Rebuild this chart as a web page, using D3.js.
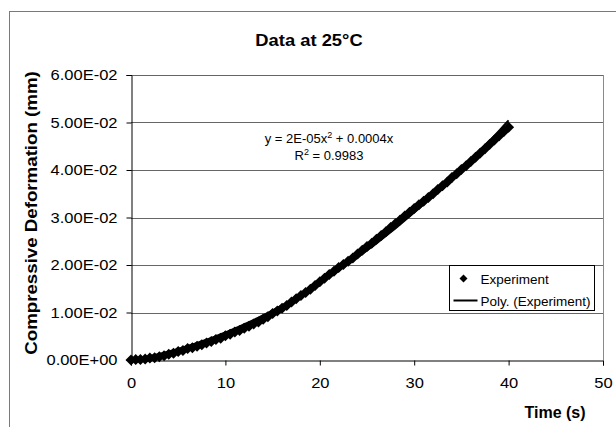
<!DOCTYPE html>
<html lang="en">
<head>
    <meta charset="UTF-8">
    <title>Data at 25°C</title>
    <style>
        body{ margin:0; background:#fff; }
        svg text{ font-family:"Liberation Sans", Arial, sans-serif; fill:#000; }
    </style>
</head>
<body>
    <div id="chart"></div>
    <script src="https://cdn.jsdelivr.net/npm/d3@7"></script>
    <script>
        // time (s), read every 0.5 s off the picture
        var timeValues = [0,0.5,1,1.5,2,2.5,3,3.5,4,4.5,5,5.5,6,6.5,7,7.5,8,8.5,9,9.5,
            10,10.5,11,11.5,12,12.5,13,13.5,14,14.5,15,15.5,16,16.5,17,17.5,18,18.5,19,19.5,
            20,20.5,21,21.5,22,22.5,23,23.5,24,24.5,25,25.5,26,26.5,27,27.5,28,28.5,29,29.5,
            30,30.5,31,31.5,32,32.5,33,33.5,34,34.5,35,35.5,36,36.5,37,37.5,38,38.5,39,39.5,40];
        // compressive deformation (mm)
        var deformation = [0.0000,0.0001,0.0001,0.0002,0.0004,0.0005,0.0007,0.0009,0.0012,0.0014,
            0.0018,0.0020,0.0024,0.0026,0.0029,0.0032,0.0036,0.0039,0.0043,0.0046,
            0.0051,0.0054,0.0059,0.0062,0.0067,0.0071,0.0076,0.0080,0.0086,0.0091,
            0.0098,0.0103,0.0109,0.0115,0.0122,0.0129,0.0136,0.0142,0.0149,0.0157,
            0.0165,0.0172,0.0180,0.0187,0.0195,0.0201,0.0208,0.0215,0.0223,0.0231,
            0.0239,0.0246,0.0254,0.0262,0.0270,0.0279,0.0287,0.0295,0.0303,0.0311,
            0.0319,0.0327,0.0334,0.0342,0.0350,0.0359,0.0367,0.0375,0.0384,0.0392,
            0.0401,0.0409,0.0418,0.0427,0.0436,0.0445,0.0454,0.0463,0.0472,0.0481,0.0490];
        var xTicks = [0,10,20,30,40,50];
        var yTicks = [0,0.01,0.02,0.03,0.04,0.05,0.06];
        var legendNames = ["Experiment","Poly. (Experiment)"];
        var equationText = ["y = 2E-05x", "R", " = 0.9983"];

        var W = 616, H = 427;
        var plot = {left:131, right:603, top:75, bottom:360};

        var svg = d3.select("#chart").append("svg")
            .attr("width", W)
            .attr("height", H);

        // outer chart frame (runs off the right and bottom of the picture)
        svg.append("rect")
            .attr("x", 9.5).attr("y", 11.5)
            .attr("width", 700).attr("height", 500)
            .attr("fill", "none")
            .attr("stroke", "#7a7a7a");

        var x = d3.scaleLinear().domain([0,50]).range([plot.left, plot.right]);
        var y = d3.scaleLinear().domain([0,0.06]).range([plot.bottom, plot.top]);

        // gridlines
        svg.append("g").selectAll("line")
            .data(yTicks.slice(1))
            .enter().append("line")
            .attr("x1", plot.left).attr("x2", plot.right)
            .attr("y1", function(d){ return Math.round(y(d)) + 0.5; })
            .attr("y2", function(d){ return Math.round(y(d)) + 0.5; })
            .attr("stroke", "#666")
            .attr("stroke-width", 1);

        // right border of plot area
        svg.append("line")
            .attr("x1", plot.right + 0.5).attr("x2", plot.right + 0.5)
            .attr("y1", plot.top).attr("y2", plot.bottom)
            .attr("stroke", "#8a8a8a");

        var fmt = function(d){
            var s = d.toExponential(2).toUpperCase();
            return s.replace(/E([+-])(\d)$/, "E$10$2");
        };

        var sx = 1.1; // labels in the picture are a little wide
        var yAxis = svg.append("g")
            .attr("transform", "translate(" + (plot.left + 0.5) + ",0)")
            .call(d3.axisLeft(y).tickValues(yTicks).tickSize(5).tickPadding(9).tickFormat(fmt));
        var xAxis = svg.append("g")
            .attr("transform", "translate(0," + (plot.bottom + 0.5) + ")")
            .call(d3.axisBottom(x).tickValues(xTicks).tickSize(5).tickPadding(12));

        [yAxis, xAxis].forEach(function(a){
            a.select(".domain").attr("stroke", "#000");
            a.selectAll(".tick line").attr("stroke", "#000");
            a.selectAll(".tick text")
                .style("font-family", '"Liberation Sans", Arial, sans-serif')
                .style("font-size", "15px");
        });
        yAxis.selectAll(".tick text")
            .attr("x", -14 / sx)
            .attr("transform", "scale(" + sx + ",1)");
        xAxis.selectAll(".tick text")
            .attr("transform", "scale(" + sx + ",1)");

        // experiment points (diamonds)
        var pts = timeValues.map(function(t, i){ return {t:t, v:deformation[i]}; });
        var dm = 5.5;
        var diamond = "M0," + (-dm) + "L" + dm + ",0L0," + dm + "L" + (-dm) + ",0Z";
        svg.append("g").selectAll("path")
            .data(pts)
            .enter().append("path")
            .attr("d", diamond)
            .attr("transform", function(d){ return "translate(" + x(d.t) + "," + y(d.v) + ")"; })
            .attr("fill", "#000");

        // 2nd order polynomial trendline (least squares, through origin)
        var s4=0, s3=0, s2=0, sxy=0, sx2y=0;
        pts.forEach(function(p){
            var t = p.t;
            s4 += t*t*t*t; s3 += t*t*t; s2 += t*t;
            sx2y += t*t*p.v; sxy += t*p.v;
        });
        var det = s4*s2 - s3*s3;
        var a = (sx2y*s2 - s3*sxy) / det;
        var b = (s4*sxy - s3*sx2y) / det;
        svg.append("path")
            .datum(timeValues)
            .attr("d", d3.line()
                .x(function(t){ return x(t); })
                .y(function(t){ return y(a*t*t + b*t); }))
            .attr("fill", "none")
            .attr("stroke", "#000")
            .attr("stroke-width", 2);

        // title and axis titles
        svg.append("text")
            .attr("transform", "translate(309,46) scale(1.08,1)")
            .attr("text-anchor", "middle")
            .style("font-size", "17px").style("font-weight", "bold")
            .text("Data at 25°C");
        svg.append("text")
            .attr("transform", "translate(37,213) rotate(-90) scale(1.1,1)")
            .attr("text-anchor", "middle")
            .style("font-size", "17px").style("font-weight", "bold")
            .text("Compressive Deformation (mm)");
        svg.append("text")
            .attr("x", 555).attr("y", 418)
            .attr("text-anchor", "middle")
            .style("font-size", "16px").style("font-weight", "bold")
            .text("Time (s)");

        // trendline equation
        var eq1 = svg.append("text")
            .attr("x", 329).attr("y", 143)
            .attr("text-anchor", "middle")
            .style("font-size", "13px");
        eq1.append("tspan").text(equationText[0]);
        eq1.append("tspan").attr("dy", -5).style("font-size", "9px").text("2");
        eq1.append("tspan").attr("dy", 5).text(" + 0.0004x");
        var eq2 = svg.append("text")
            .attr("x", 329).attr("y", 160)
            .attr("text-anchor", "middle")
            .style("font-size", "13px");
        eq2.append("tspan").text(equationText[1]);
        eq2.append("tspan").attr("dy", -5).style("font-size", "9px").text("2");
        eq2.append("tspan").attr("dy", 5).text(equationText[2]);

        // legend
        var lg = svg.append("g").attr("transform", "translate(449.5,265.5)");
        lg.append("rect")
            .attr("width", 145).attr("height", 45)
            .attr("fill", "#fff")
            .attr("stroke", "#000");
        lg.append("path")
            .attr("d", "M0,-4L4,0L0,4L-4,0Z")
            .attr("transform", "translate(14,13)")
            .attr("fill", "#000");
        lg.append("line")
            .attr("x1", 4).attr("x2", 28)
            .attr("y1", 35).attr("y2", 35)
            .attr("stroke", "#000").attr("stroke-width", 2);
        lg.selectAll(".lt")
            .data(legendNames)
            .enter().append("text")
            .attr("x", 31)
            .attr("y", function(d, i){ return 18 + i*22; })
            .style("font-size", "13.5px")
            .text(function(d){ return d; });
    </script>
</body>
</html>
